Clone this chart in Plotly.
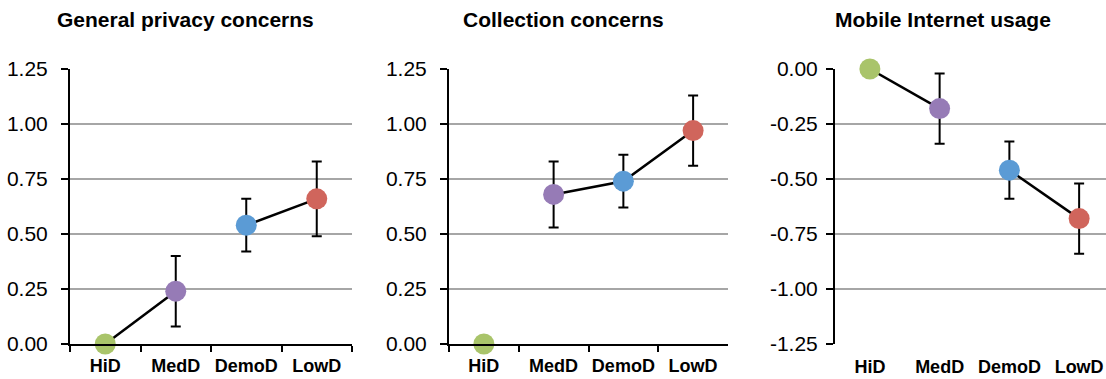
import plotly.graph_objects as go

W, H = 1106, 379

categories = ["HiD", "MedD", "DemoD", "LowD"]
point_colors = ["#A9C46A", "#967BB6", "#5B9BD5", "#D0655C"]

titles = ["General privacy concerns", "Collection concerns", "Mobile Internet usage"]

general_vals = [0.0, 0.24, 0.54, 0.66]
general_err = [0.0, 0.16, 0.12, 0.17]
collection_vals = [0.0, 0.68, 0.74, 0.97]
collection_err = [0.0, 0.15, 0.12, 0.16]
mobile_vals = [0.0, -0.18, -0.46, -0.68]
mobile_err = [0.0, 0.16, 0.13, 0.16]

# which consecutive category indices are joined by a line
general_segments = [[0, 1], [2, 3]]
collection_segments = [[1, 2, 3]]
mobile_segments = [[0, 1], [2, 3]]

pos_ticks = [0.0, 0.25, 0.5, 0.75, 1.0, 1.25]
pos_tick_labels = ["0.00", "0.25", "0.50", "0.75", "1.00", "1.25"]
neg_ticks = [0.0, -0.25, -0.5, -0.75, -1.0, -1.25]
neg_tick_labels = ["0.00", "-0.25", "-0.50", "-0.75", "-1.00", "-1.25"]

FONT = "Liberation Sans, Arial, sans-serif"
GRID = "#A6A6A6"

def px_x(p):
    return p / W

def px_y(p):
    return 1 - p / H

ydom = [px_y(344), px_y(69)]
xdoms = [[px_x(70), px_x(352)], [px_x(449), px_x(728)], [px_x(835), 1.0]]

fig = go.Figure()

panels = [
    (general_vals, general_err, general_segments),
    (collection_vals, collection_err, collection_segments),
    (mobile_vals, mobile_err, mobile_segments),
]

for i, (vals, errs, segs) in enumerate(panels):
    xa = "x" if i == 0 else f"x{i+1}"
    ya = "y" if i == 0 else f"y{i+1}"
    lx, ly = [], []
    for seg in segs:
        for k in seg:
            lx.append(categories[k])
            ly.append(vals[k])
        lx.append(categories[seg[-1]])
        ly.append(None)
    fig.add_trace(go.Scatter(x=lx, y=ly, mode="lines", xaxis=xa, yaxis=ya,
                             line=dict(color="black", width=2.5),
                             connectgaps=False, showlegend=False, hoverinfo="skip",
                             cliponaxis=False))
    fig.add_trace(go.Scatter(
        x=categories, y=vals, mode="markers", xaxis=xa, yaxis=ya,
        marker=dict(size=21, color=point_colors, line=dict(width=0)),
        error_y=dict(type="data", array=errs, symmetric=True,
                     color="black", thickness=2, width=5),
        cliponaxis=False, showlegend=False))

cat_font = dict(family=FONT, size=18, color="black", weight="bold")
tick_font = dict(family=FONT, size=21, color="black")

for i in range(3):
    key = "xaxis" if i == 0 else f"xaxis{i+1}"
    ykey = "yaxis" if i == 0 else f"yaxis{i+1}"
    ya = "y" if i == 0 else f"y{i+1}"
    if i < 2:
        fig.layout[key] = dict(
            domain=xdoms[i], anchor=ya, type="category",
            categoryorder="array", categoryarray=categories,
            range=[-0.5, 3.5], tickson="boundaries", ticks="outside",
            ticklen=6, tickwidth=2, tickcolor="black", tickangle=0,
            showline=True, linecolor="black", linewidth=2,
            showgrid=False, zeroline=False, tickfont=cat_font,
            ticklabelstandoff=4, automargin=False)
        fig.layout[ykey] = dict(
            domain=ydom, anchor="x" if i == 0 else f"x{i+1}",
            range=[0, 1.25], tickvals=pos_ticks, ticktext=pos_tick_labels,
            ticks="outside", ticklen=7, tickwidth=2, tickcolor="black",
            showline=True, linecolor="black", linewidth=2,
            showgrid=True, gridcolor=GRID, gridwidth=1.5,
            zeroline=False, tickfont=tick_font, ticklabelstandoff=9,
            automargin=False)
    else:
        rng = [-0.5, -0.5 + 271 / 69.75]
        fig.layout[key] = dict(
            domain=xdoms[i], anchor=ya, type="category",
            categoryorder="array", categoryarray=categories,
            range=rng, ticks="", showline=False, showgrid=False, tickangle=0,
            zeroline=False, tickfont=cat_font, ticklabelstandoff=10,
            automargin=False)
        fig.layout["xaxis4"] = dict(
            overlaying="x3", anchor=ya, side="top", range=rng,
            tickvals=[-0.5, 0.5, 1.5, 2.5, 3.5], ticks="inside",
            ticklen=6, tickwidth=2, tickcolor="black",
            showline=True, linecolor="black", linewidth=2,
            showgrid=False, zeroline=False, showticklabels=False,
            automargin=False)
        fig.layout[ykey] = dict(
            domain=ydom, anchor="x3",
            range=[-1.25, 0], tickvals=neg_ticks, ticktext=neg_tick_labels,
            ticks="outside", ticklen=7, tickwidth=2, tickcolor="black",
            showline=True, linecolor="black", linewidth=2,
            showgrid=True, gridcolor=GRID, gridwidth=1.5,
            zeroline=False, tickfont=tick_font, ticklabelstandoff=4,
            automargin=False)

title_centers = [185, 563, 943]
for t, cx in zip(titles, title_centers):
    fig.add_annotation(text=t, xref="paper", yref="paper", x=px_x(cx), y=px_y(19),
                       xanchor="center", yanchor="middle", showarrow=False,
                       font=dict(family=FONT, size=21, color="black", weight="bold"))

fig.update_layout(template="none", width=W, height=H,
                  margin=dict(l=0, r=0, t=0, b=0, autoexpand=False),
                  paper_bgcolor="white", plot_bgcolor="white",
                  showlegend=False)

fig.write_html("out.html")
